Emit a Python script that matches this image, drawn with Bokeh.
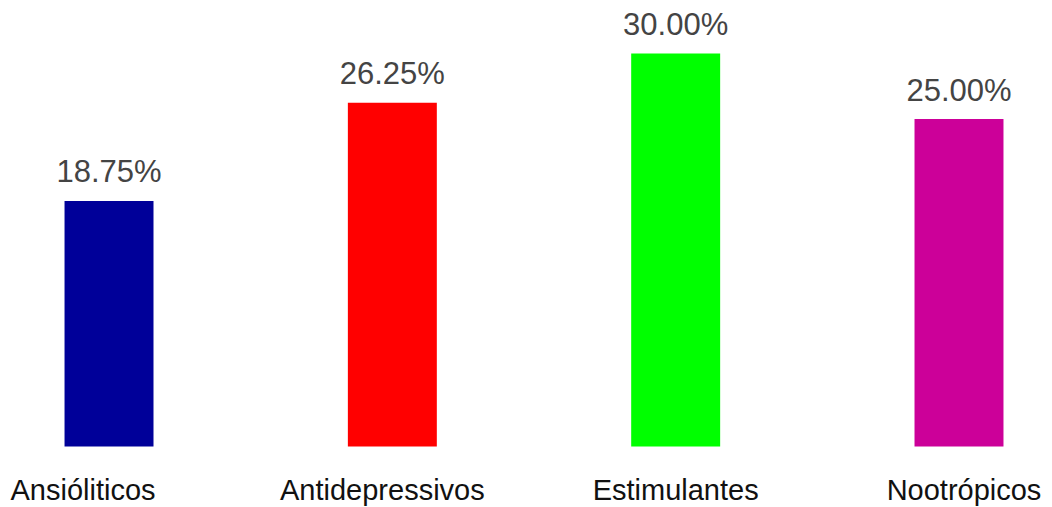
from bokeh.plotting import figure
from bokeh.models import ColumnDataSource, Range1d
from bokeh.core.properties import value
from bokeh.embed import file_html
from bokeh.resources import INLINE

categories = ["Ansióliticos", "Antidepressivos", "Estimulantes", "Nootrópicos"]
percentages = [18.75, 26.25, 30.00, 25.00]
bar_colors = ["#000099", "#ff0000", "#00ff00", "#cc0099"]
value_labels = [f"{v:.2f}%" for v in percentages]

# horizontal nudge (px) of the category captions, as in the original
label_shift = [-26, -10, 0, 5]

positions = list(range(len(categories)))

src = ColumnDataSource(dict(
    x=positions, cat=categories, pct=percentages, color=bar_colors,
    lbl=value_labels, shift=label_shift, base=[0] * len(categories),
))

p = figure(
    width=1052, height=507,
    x_range=Range1d(-0.383, 3.33),
    y_range=Range1d(-4.656, 34.046),
    output_backend="svg", toolbar_location=None,
    min_border_left=0, min_border_right=0, min_border_top=0, min_border_bottom=0,
)

p.vbar(x="x", top="pct", bottom=0, width=0.314, color="color", line_color=None, source=src)

p.text(x="x", y="pct", text="lbl", source=src, text_align="center",
       text_baseline="alphabetic", y_offset=-29, text_color="#444444",
       text_font=value("Liberation Sans"), text_font_size="31px")

p.text(x="x", y="base", text="cat", source=src, text_align="center",
       text_baseline="alphabetic", x_offset="shift", y_offset=43, text_color="#111111",
       text_font=value("Liberation Sans"), text_font_size="29px")

p.axis.visible = False
p.grid.visible = False
p.outline_line_color = None
p.background_fill_color = "white"
p.border_fill_color = "white"

open("out.html", "w").write(file_html(p, INLINE))
